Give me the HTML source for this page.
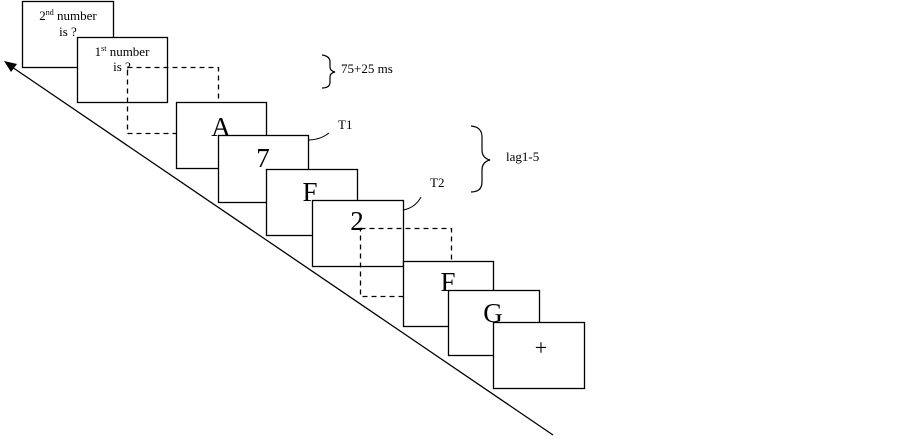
<!DOCTYPE html>
<html><head><style>body{margin:0;background:#fff}</style></head><body>
<svg width="900" height="437" xmlns="http://www.w3.org/2000/svg" font-family="Liberation Serif, serif" fill="none">
<rect x="22.5" y="1.5" width="91" height="66" fill="#fff" stroke="#000" stroke-width="1.3"/>
<text x="68" y="20" font-size="13" fill="#000" text-anchor="middle">2<tspan font-size="8" dy="-5">nd</tspan><tspan dy="5"> number</tspan></text>
<text x="68" y="36" font-size="13" fill="#000" text-anchor="middle">is ?</text>
<rect x="77.5" y="37.5" width="90" height="65" fill="#fff" stroke="#000" stroke-width="1.3"/>
<text x="122" y="56" font-size="13" fill="#000" text-anchor="middle">1<tspan font-size="8" dy="-5">st</tspan><tspan dy="5"> number</tspan></text>
<text x="122" y="71" font-size="13" fill="#000" text-anchor="middle">is ?</text>
<rect x="127.5" y="67.5" width="91" height="66" stroke="#000" stroke-width="1.3" stroke-dasharray="5,4"/>
<rect x="176.5" y="102.5" width="90" height="66" fill="#fff" stroke="#000" stroke-width="1.3"/>
<text x="221" y="136" font-size="27" fill="#000" text-anchor="middle">A</text>
<rect x="218.5" y="135.5" width="90" height="67" fill="#fff" stroke="#000" stroke-width="1.3"/>
<text x="263" y="167" font-size="27" fill="#000" text-anchor="middle">7</text>
<rect x="266.5" y="169.5" width="91" height="66" fill="#fff" stroke="#000" stroke-width="1.3"/>
<text x="310" y="201" font-size="27" fill="#000" text-anchor="middle">F</text>
<rect x="312.5" y="200.5" width="91" height="66" fill="#fff" stroke="#000" stroke-width="1.3"/>
<text x="357" y="230" font-size="27" fill="#000" text-anchor="middle">2</text>
<rect x="360.5" y="228.5" width="91" height="68" stroke="#000" stroke-width="1.3" stroke-dasharray="5,4"/>
<rect x="403.5" y="261.5" width="90" height="65" fill="#fff" stroke="#000" stroke-width="1.3"/>
<text x="448" y="291" font-size="27" fill="#000" text-anchor="middle">F</text>
<rect x="448.5" y="290.5" width="91" height="65" fill="#fff" stroke="#000" stroke-width="1.3"/>
<text x="493" y="322" font-size="27" fill="#000" text-anchor="middle">G</text>
<rect x="493.5" y="322.5" width="91" height="66" fill="#fff" stroke="#000" stroke-width="1.3"/>
<text x="541" y="355" font-size="22" fill="#000" text-anchor="middle">+</text>
<line x1="553" y1="435" x2="12" y2="67" stroke="#000" stroke-width="1.3"/>
<polygon points="4,61 17,64 11,72" fill="#000"/>
<path d="M322,55 Q330,56 330,62 L330,67 Q330,71 335,72 Q330,73 330,77 L330,82 Q330,88 322,88" stroke="#000" stroke-width="1.2"/>
<text x="341" y="73" font-size="13" fill="#000">75+25 ms</text>
<path d="M471,126 Q482,127 482,137 L482,150 Q482,158 490,160 Q482,162 482,170 L482,182 Q482,192 471,192" stroke="#000" stroke-width="1.2"/>
<text x="506" y="161" font-size="13" fill="#000">lag1-5</text>
<path d="M308,140 Q320,140 329,133" stroke="#000" stroke-width="1"/>
<text x="338" y="129" font-size="13" fill="#000">T1</text>
<path d="M403,210 Q415,208 421,197" stroke="#000" stroke-width="1"/>
<text x="430" y="187" font-size="13" fill="#000">T2</text>
</svg>
</body></html>
